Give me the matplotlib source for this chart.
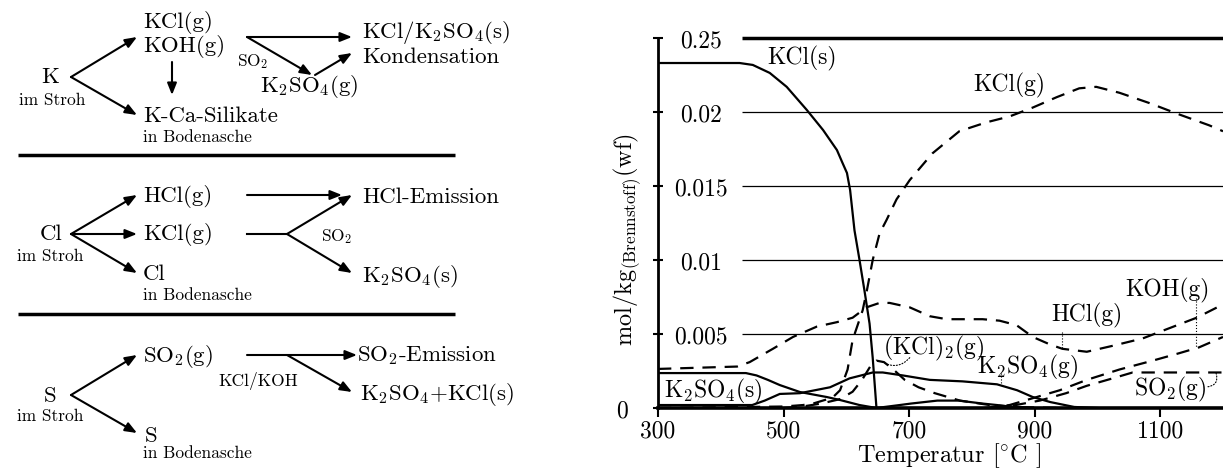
import matplotlib
matplotlib.use("Agg")
import matplotlib.pyplot as plt

plt.rcParams['font.family'] = 'cmr10'
plt.rcParams['mathtext.fontset'] = 'cm'
plt.rcParams['axes.formatter.use_mathtext'] = True
plt.rcParams['axes.unicode_minus'] = False

# ---------------- equilibrium data, mol per kg fuel (dry) ----------------
kcl_s_T = [300, 430, 451, 478, 505, 537, 563, 585, 594, 601, 606, 613, 621, 629, 637, 642, 648]
kcl_s = [0.02331, 0.02331, 0.02318, 0.02264, 0.0217, 0.02014, 0.01878, 0.01743, 0.01655,
         0.01588, 0.01473, 0.0120, 0.0100, 0.0079, 0.0057, 0.0034, 0.0]

kcl_g_T = [300, 500, 531, 547, 578, 590, 602, 610, 626, 633, 642, 653, 664, 680, 701, 737,
           780, 823, 860, 897, 935, 971, 998, 1035, 1083, 1126, 1178, 1200]
kcl_g = [0.0, 0.0001, 0.0002, 0.0003, 0.0007, 0.0012, 0.0026, 0.0046, 0.0066, 0.0080, 0.0100,
         0.0118, 0.0127, 0.0141, 0.0154, 0.0172, 0.0187, 0.0193, 0.0197, 0.0203, 0.0210,
         0.0216, 0.0217, 0.0213, 0.0206, 0.0199, 0.0191, 0.0187]

kcl2_g_T = [500, 530, 560, 590, 610, 625, 638, 648, 660, 675, 693, 715, 741, 781, 828, 880, 940]
kcl2_g = [0.0, 0.0001, 0.0003, 0.0006, 0.0011, 0.0019, 0.0028, 0.0032, 0.0031, 0.0026,
          0.0019, 0.0014, 0.0010, 0.0005, 0.0002, 0.00005, 0.0]

hcl_g_T = [300, 426, 446, 483, 515, 553, 585, 610, 632, 653, 669, 701, 733, 760, 817, 844,
           871, 897, 924, 944, 983, 1024, 1072, 1115, 1158, 1200]
hcl_g = [0.00264, 0.0028, 0.0031, 0.0040, 0.0048, 0.0055, 0.0058, 0.0061, 0.0068, 0.0071,
         0.0071, 0.0068, 0.0062, 0.0060, 0.0060, 0.0059, 0.0056, 0.0048, 0.0043, 0.0040,
         0.0038, 0.0042, 0.0047, 0.0054, 0.0061, 0.0070]

koh_g_T = [820, 860, 908, 940, 983, 1035, 1088, 1130, 1162, 1200]
koh_g = [0.0, 0.0002, 0.0008, 0.0012, 0.0019, 0.0026, 0.0032, 0.0037, 0.0041, 0.0048]

so2_g_T = [830, 870, 908, 950, 983, 1024, 1056, 1100, 1150, 1200]
so2_g = [0.0, 0.0002, 0.0005, 0.0010, 0.0015, 0.0020, 0.0024, 0.0024, 0.0024, 0.0024]

k2so4_s_T = [300, 440, 457, 475, 494, 526, 569, 590, 621, 648]
k2so4_s = [0.00236, 0.00236, 0.0022, 0.0019, 0.00155, 0.00108, 0.00074, 0.00054, 0.0002, 0.0]

k2so4_g_T = [300, 450, 470, 494, 526, 574, 605, 642, 658, 690, 733, 785, 840, 872, 897,
             925, 963, 1000]
k2so4_g = [0.0002, 0.0002, 0.0005, 0.00095, 0.0010, 0.0014, 0.0020, 0.0024, 0.0024, 0.0022,
           0.0019, 0.0018, 0.0016, 0.0012, 0.00074, 0.0004, 0.00007, 0.0]

minor_solid_T = [648, 685, 703, 745, 765, 779, 817, 840, 860, 900]
minor_solid = [0.0, 0.0002, 0.0003, 0.0005, 0.0005, 0.0005, 0.0003, 0.0002, 0.0001, 0.0]

xticks = [300, 500, 700, 900, 1100]
yticks = [0.0, 0.005, 0.01, 0.015, 0.02, 0.025]
ytick_labels = ['0', '0.005', '0.01', '0.015', '0.02', '0.25']

FS = 17
fig = plt.figure(figsize=(12.23, 4.70), dpi=100)

# ---------------- reaction scheme (left) ----------------
sc = fig.add_axes([0, 0, 560 / 1223, 1])
sc.set_xlim(0, 560)
sc.set_ylim(470, 0)
sc.axis('off')

BIG, SMALL = 16.5, 12.5
scheme_text = [
    (50, 77, 'K', BIG, 'center'), (52, 100, 'im Stroh', SMALL, 'center'),
    (143, 23, 'KCl(g)', BIG, 'left'), (143, 47, 'KOH(g)', BIG, 'left'),
    (143, 116, 'K-Ca-Silikate', BIG, 'left'), (143, 137, 'in Bodenasche', SMALL, 'left'),
    (253, 62, r'SO$_2$', SMALL, 'center'), (309, 87, r'K$_2$SO$_4$(g)', BIG, 'center'),
    (362, 32, r'KCl/K$_2$SO$_4$(s)', BIG, 'left'), (362, 57, 'Kondensation', BIG, 'left'),
    (51, 234, 'Cl', BIG, 'center'), (50, 256, 'im Stroh', SMALL, 'center'),
    (143, 197, 'HCl(g)', BIG, 'left'), (143, 235, 'KCl(g)', BIG, 'left'),
    (143, 274, 'Cl', BIG, 'left'), (143, 295, 'in Bodenasche', SMALL, 'left'),
    (362, 197, 'HCl-Emission', BIG, 'left'), (362, 276, r'K$_2$SO$_4$(s)', BIG, 'left'),
    (337, 237, r'SO$_2$', SMALL, 'center'),
    (50, 396, 'S', BIG, 'center'), (50, 416, 'im Stroh', SMALL, 'center'),
    (143, 356, r'SO$_2$(g)', BIG, 'left'), (145, 436, 'S', BIG, 'left'),
    (143, 453, 'in Bodenasche', SMALL, 'left'), (258, 381, 'KCl/KOH', SMALL, 'center'),
    (357, 356, r'SO$_2$-Emission', BIG, 'left'), (360, 395, r'K$_2$SO$_4$+KCl(s)', BIG, 'left'),
]
for x, y, s, fs, ha in scheme_text:
    sc.text(x, y, s, fontsize=fs, ha=ha, va='center')

arrow_kw = dict(arrowstyle='-|>,head_length=0.5,head_width=0.2', color='k', lw=1.5,
                mutation_scale=14, shrinkA=0, shrinkB=0)
scheme_arrows = [
    ((71, 77), (137, 37)), ((71, 77), (137, 115)), ((172, 62), (172, 95)),
    ((247, 37), (352, 37)), ((247, 37), (312, 75)), ((315, 75), (352, 53)),
    ((71, 234), (137, 195)), ((71, 234), (137, 234)), ((71, 234), (137, 273)),
    ((247, 195), (342, 195)), ((287, 234), (352, 195)), ((287, 234), (352, 273)),
    ((71, 395), (137, 355)), ((71, 395), (137, 433)),
    ((247, 355), (357, 355)), ((287, 355), (352, 392)),
]
for start, end in scheme_arrows:
    sc.annotate('', xy=end, xytext=start, arrowprops=arrow_kw)
sc.plot([247, 287], [234, 234], color='k', lw=1.5)
for y in (155, 314):
    sc.plot([18, 455], [y, y], color='k', lw=2.5, solid_capstyle='butt')

# ---------------- equilibrium chart (right) ----------------
ax = fig.add_axes([658 / 1223, 62 / 470, 565 / 1223, 370 / 470])
ax.set_xlim(300, 1200)
ax.set_ylim(0, 0.025)
for side in ('top', 'right'):
    ax.spines[side].set_visible(False)
ax.spines['left'].set_linewidth(2.0)
ax.spines['bottom'].set_linewidth(2.6)

grid_start = 433.6
ax.hlines(yticks[1:-1], grid_start, 1200, color='k', lw=0.9)
ax.hlines(yticks[-1], grid_start, 1200, color='k', lw=2.5, clip_on=False)

ax.set_xticks(xticks)
ax.set_xticklabels([str(t) for t in xticks], fontsize=FS)
ax.tick_params(axis='x', direction='out', length=6.5, width=1.5, pad=2.5)
ax.set_yticks(yticks)
ax.set_yticklabels([])
ax.tick_params(axis='y', direction='inout', length=7.5, width=1.5)

for v, lab in zip(yticks, ytick_labels):
    xpos = 242.7 if v == 0 else 368.5
    ax.text(xpos, v - 0.00022, lab, fontsize=FS, ha='center', va='center', clip_on=False)

ax.text(251, 0.01135, r'mol/kg$_{\mathrm{(Brennstoff)}}$(wf)', fontsize=17.5, rotation=90,
        ha='center', va='center')
ax.text(764.6, -0.00322, r'Temperatur [$^{\circ}$C ]', fontsize=17.5, ha='center', va='center')

solid = dict(color='k', lw=1.6)
dashed = dict(color='k', lw=1.6, linestyle=(0, (6, 4)))
ax.plot(kcl_s_T, kcl_s, **solid)
ax.plot(k2so4_s_T, k2so4_s, **solid)
ax.plot(k2so4_g_T, k2so4_g, **solid)
ax.plot(minor_solid_T, minor_solid, **solid)
ax.plot(kcl_g_T, kcl_g, **dashed)
ax.plot(kcl2_g_T, kcl2_g, **dashed)
ax.plot(hcl_g_T, hcl_g, **dashed)
ax.plot(koh_g_T, koh_g, **dashed)
ax.plot(so2_g_T, so2_g, **dashed)

curve_labels = [
    (529, 0.02365, 'KCl(s)'), (860, 0.02182, 'KCl(g)'),
    (739, 0.00405, r'(KCl)$_2$(g)'), (888.7, 0.00277, r'K$_2$SO$_4$(g)'),
    (982.6, 0.00622, 'HCl(g)'), (1111.5, 0.00797, 'KOH(g)'),
    (1116, 0.00122, r'SO$_2$(g)'), (387.5, 0.00115, r'K$_2$SO$_4$(s)'),
]
for x, y, s in curve_labels:
    ax.text(x, y, s, fontsize=FS, ha='center', va='center')

leader = dict(color='k', lw=0.8, linestyle=':')
ax.plot([942.8, 942.8], [0.00514, 0.00405], **leader)
ax.plot([1157.6, 1157.6], [0.00743, 0.00405], **leader)
ax.plot([847, 847], [0.00236, 0.00155], **leader)
ax.annotate('', xy=(1173.5, 0.00142), xytext=(1189, 0.00236),
            arrowprops=dict(arrowstyle='-', color='k', lw=0.8, linestyle=':',
                            connectionstyle='arc3,rad=-0.6', shrinkA=0, shrinkB=0))
ax.annotate('', xy=(658, 0.0031), xytext=(701, 0.0034),
            arrowprops=dict(arrowstyle='-', color='k', lw=0.8, linestyle=':',
                            connectionstyle='arc3,rad=-0.4', shrinkA=0, shrinkB=0))

fig.savefig('out.png', dpi=100)
